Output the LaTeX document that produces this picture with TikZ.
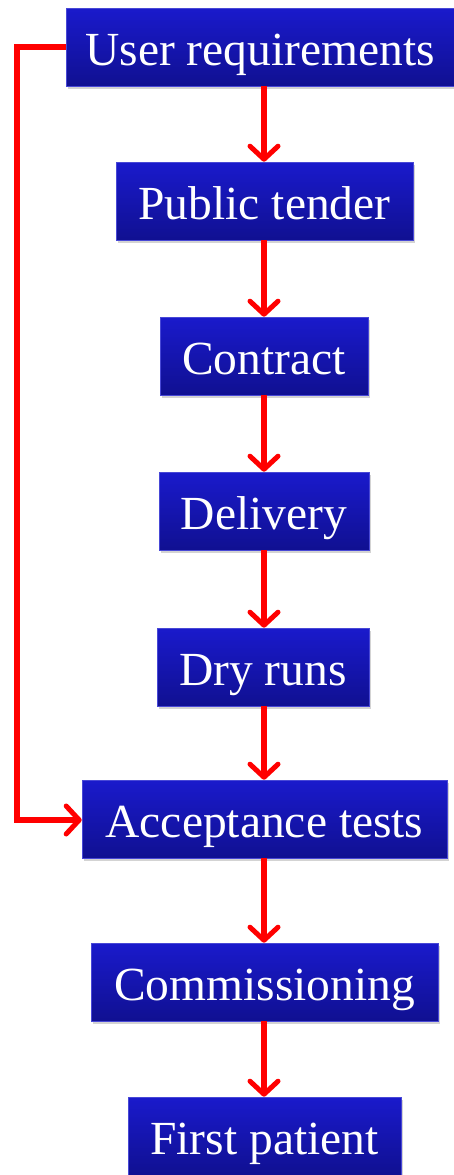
\documentclass[tikz,border=0pt]{standalone}
\usepackage{fontspec}
\setmainfont{Liberation Serif}
\usetikzlibrary{arrows.meta,shadows}
\definecolor{boxtop}{RGB}{26,26,204}
\definecolor{boxbot}{RGB}{16,16,145}
\definecolor{arrred}{RGB}{255,0,0}
\tikzset{
  stepbox/.style={rectangle, draw=boxtop!80!white, line width=0.6pt, top color=boxtop, bottom color=boxbot,
    text height=57pt, text depth=21pt, inner sep=0pt, text=white, font=\fontsize{47.5}{50}\selectfont,
    drop shadow={shadow xshift=2pt, shadow yshift=-3pt, opacity=0.35}},
  flow/.style={draw=arrred, line width=5.5pt, -{Straight Barb[length=13pt, width=28pt, line width=5pt, round]}}
}
\begin{document}
\begin{tikzpicture}[x=1pt,y=-1pt]
\useasboundingbox (0,0) rectangle (454,1175);
\node[stepbox, minimum width=388pt] (ur) at (260,47) {User requirements};
\node[stepbox, minimum width=297pt] (pt) at (264.5,201) {Public tender};
\node[stepbox, minimum width=208pt] (ct) at (264,356) {Contract};
\node[stepbox, minimum width=210pt] (dl) at (264,511) {Delivery};
\node[stepbox, minimum width=212pt] (dr) at (263,667) {Dry runs};
\node[stepbox, minimum width=365pt] (at) at (264.5,819) {Acceptance tests};
\node[stepbox, minimum width=347pt] (cm) at (264.5,982) {Commissioning};
\node[stepbox, minimum width=273pt] (fp) at (264.5,1136) {First patient};
\coordinate (c1) at (17,47);
\coordinate (c2) at (17,820);
\draw[flow] (ur.south -| 264,0) -- (pt.north -| 264,0);
\draw[flow] (pt.south -| 264,0) -- (ct.north -| 264,0);
\draw[flow] (ct.south -| 264,0) -- (dl.north -| 264,0);
\draw[flow] (dl.south -| 264,0) -- (dr.north -| 264,0);
\draw[flow] (dr.south -| 264,0) -- (at.north -| 264,0);
\draw[flow] (at.south -| 264,0) -- (cm.north -| 264,0);
\draw[flow] (cm.south -| 264,0) -- (fp.north -| 264,0);
\draw[flow, line join=miter] (ur.west) -- (c1) -- (c2) -- (at.west |- c2);
\end{tikzpicture}
\end{document}
